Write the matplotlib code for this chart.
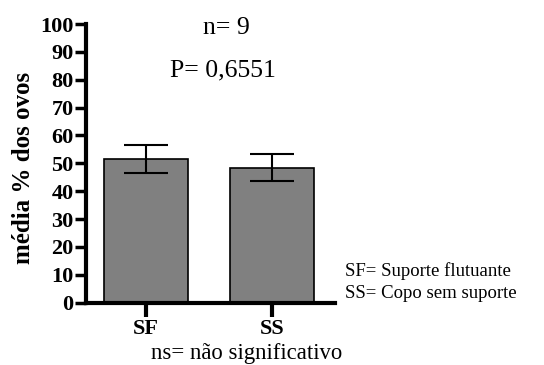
import matplotlib
matplotlib.use("Agg")
import matplotlib.pyplot as plt

categories = ["SF", "SS"]
means = [51.6, 48.5]
errors = [5.0, 5.0]
yticks = [0, 10, 20, 30, 40, 50, 60, 70, 80, 90, 100]

plt.rcParams['font.family'] = ['Liberation Serif', 'DejaVu Serif']

fig = plt.figure(figsize=(5.44, 3.65), dpi=100)
ax = fig.add_axes([0.158, 0.171, 0.458, 0.763])

x = list(range(len(categories)))
ax.bar(x, means, width=0.667, color="#808080", edgecolor="black", linewidth=1.2, zorder=2)
ax.errorbar(x, means, yerr=errors, fmt="none", ecolor="black", elinewidth=1.5,
            capsize=16, capthick=1.5, zorder=3)

ax.set_xlim(-0.476, 1.5)
ax.set_ylim(0, 100)
ax.set_yticks(yticks)
ax.set_yticklabels([str(v) for v in yticks], fontweight="bold", fontsize=16)
ax.set_xticks(x)
ax.set_xticklabels(categories, fontweight="bold", fontsize=16)
ax.tick_params(axis="y", direction="out", length=8, width=2.5, pad=1)
ax.tick_params(axis="x", direction="out", length=10, width=3, pad=2)
for s in ["top", "right"]:
    ax.spines[s].set_visible(False)
for s in ["left", "bottom"]:
    ax.spines[s].set_linewidth(3)

fig.text(24/544, 1 - 168/365, "média % dos ovos", rotation=90, ha="center", va="center",
         fontweight="bold", fontsize=18)

fig.text(226/544, 1 - 28/365, "n= 9", ha="center", va="center", fontsize=18.5)
fig.text(223/544, 1 - 70/365, "P= 0,6551", ha="center", va="center", fontsize=18.5)
fig.text(345/544, 1 - 271/365, "SF= Suporte flutuante", ha="left", va="center", fontsize=13.5)
fig.text(345/544, 1 - 293/365, "SS= Copo sem suporte", ha="left", va="center", fontsize=13.5)
fig.text(247/544, 1 - 353/365, "ns= não significativo", ha="center", va="center", fontsize=16.4)

fig.savefig("out.png", dpi=100)
